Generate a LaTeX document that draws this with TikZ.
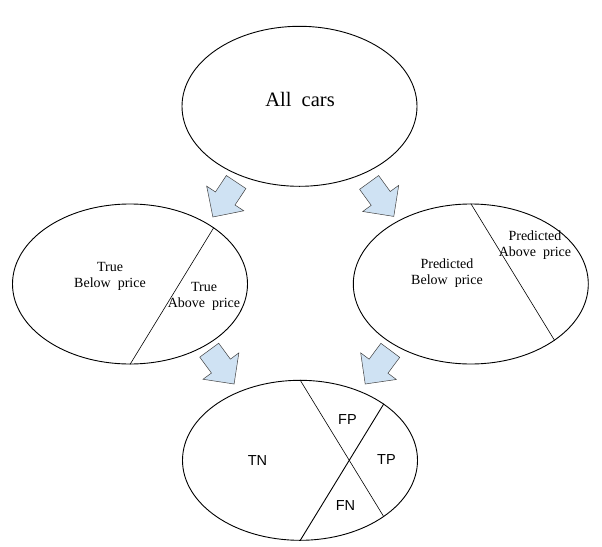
\documentclass[tikz,border=0pt]{standalone}
\usepackage{fontspec}
\setmainfont{Liberation Serif}
\setsansfont{Liberation Sans}
\usepackage{tikz}
\usetikzlibrary{shapes.geometric,shapes.arrows}
\definecolor{arrowblue}{HTML}{CFE2F3}

\begin{document}
\begin{tikzpicture}[x=1pt,y=-1pt,
            set/.style={ellipse,draw,line width=.9pt,minimum width=235pt,minimum height=160pt,inner sep=0},
            lab/.style={align=center,inner sep=0,font=\fontsize{14}{16}\selectfont},
            cell/.style={inner sep=0,font=\sffamily\fontsize{14.5}{16}\selectfont},
            blk/.style={single arrow,draw=black!75,line width=.5pt,fill=arrowblue,inner sep=0,
                        text height=11.5pt,text depth=11.5pt,minimum height=42pt,
                        single arrow head extend=10.5pt,anchor=tip},
            chord/.style={draw,line width=.6pt}
          ]
          \useasboundingbox (0,0) rectangle (602,546);
          %sets
          \node[set] (all) at (299.5,106.3) {};
          \node[set] (truth) at (130,284) {};
          \node[set] (pred) at (470.8,284) {};
          \node[set] (conf) at (300,460.3) {};

          %labels
          \node[lab,font=\fontsize{20.5}{22}\selectfont] (allcars) at (300,99.5) {All\ \ cars};
          \node[lab] (tbelow) at (110,276) {True\\ Below\ \ price};
          \node[lab] (tabove) at (204,296) {True\\ Above\ \ price};
          \node[lab] (pbelow) at (447,273) {Predicted\\ Below\ \ price};
          \node[lab] (pabove) at (535,245) {Predicted\\ Above\ \ price};
          \node[cell] (tn) at (257.5,460.5) {TN};
          \node[cell] (fp) at (347.5,419.5) {FP};
          \node[cell] (tp) at (386.5,460) {TP};
          \node[cell] (fn) at (345.5,505.5) {FN};

          %dividers
          \path[chord] (truth.34) -- (truth.south);
          \path[chord] (pred.north) -- (pred.-34);
          \path[chord] (conf.north) -- (conf.-34);
          \path[chord,line width=.9pt] (conf.34) -- (conf.south);

          %block arrows
          \node[blk,rotate=236.4] (a1) at (212.7,217.3) {};
          \node[blk,rotate=-54] (a2) at (394,216.7) {};
          \node[blk,rotate=-53.7] (a3) at (234.3,384.3) {};
          \node[blk,rotate=-126.7] (a4) at (365,384.3) {};

      \end{tikzpicture}
\end{document}
